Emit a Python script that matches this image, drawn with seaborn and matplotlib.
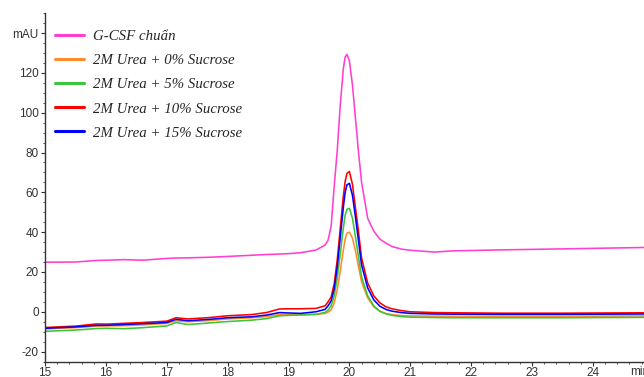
import numpy as np
import pandas as pd
import matplotlib
matplotlib.use("Agg")
import matplotlib.pyplot as plt
import matplotlib.transforms as mtransforms
from matplotlib.ticker import MultipleLocator
import seaborn as sns

# ----------------------------
# DATA
# ----------------------------
minutes = [15.0, 15.5, 15.85, 16.0, 16.3, 16.6, 17.0, 17.15, 17.35, 17.7,
           18.0, 18.4, 18.65, 18.85, 19.0, 19.2, 19.45, 19.6, 19.65, 19.7,
           19.75, 19.8, 19.85, 19.9, 19.93, 19.96, 20.0, 20.05, 20.1, 20.15,
           20.2, 20.3, 20.4, 20.5, 20.6, 20.7, 20.85, 21.0, 21.4, 21.7,
           22.5, 23.5, 24.85]

gcsf_std = [24.9, 25.0, 25.8, 25.9, 26.2, 25.9, 26.8, 27.0, 27.1, 27.4,
            27.8, 28.4, 28.8, 29.0, 29.2, 29.7, 31.0, 33.5, 36.0, 43.0,
            63.0, 81.0, 104.0, 122.0, 128.0, 129.3, 126.0, 114.0, 97.0, 80.0,
            65.0, 47.0, 40.5, 36.5, 34.5, 32.8, 31.5, 30.9, 30.0, 30.6,
            31.1, 31.6, 32.3]

sucrose_0 = [-8.6, -8.0, -7.2, -7.1, -7.0, -6.6, -5.8, -4.5, -5.0, -4.4,
             -3.6, -3.0, -2.4, -1.4, -1.4, -1.4, -1.3, -0.8, -0.2, 1.0,
             4.5, 11.0, 20.5, 31.0, 36.5, 39.5, 40.0, 37.0, 30.5, 22.5,
             15.0, 7.0, 2.5, 0.2, -0.9, -1.4, -1.9, -2.1, -2.2, -2.3,
             -2.3, -2.3, -2.1]

sucrose_5 = [-9.8, -9.2, -8.4, -8.3, -8.5, -8.0, -7.1, -5.4, -6.4, -5.6,
             -4.9, -4.2, -3.4, -2.0, -1.8, -1.6, -1.3, -0.3, 0.8, 3.0,
             8.0, 17.0, 29.0, 42.0, 48.5, 51.5, 52.0, 47.0, 37.5, 27.5,
             17.5, 8.0, 3.0, 0.3, -1.0, -1.8, -2.4, -2.7, -2.9, -3.0,
             -3.0, -3.0, -2.8]

sucrose_10 = [-7.9, -7.2, -6.1, -6.2, -5.8, -5.4, -4.7, -3.0, -3.6, -2.9,
              -2.0, -1.4, -0.3, 1.4, 1.5, 1.5, 1.7, 3.0, 5.0, 7.5,
              14.0, 26.0, 42.0, 58.0, 65.5, 69.5, 70.5, 64.0, 52.0, 40.0,
              27.0, 14.5, 8.0, 4.5, 2.5, 1.5, 0.6, 0.0, -0.4, -0.5,
              -0.7, -0.7, -0.5]

sucrose_15 = [-8.3, -7.6, -6.8, -6.8, -6.4, -6.0, -5.4, -3.8, -4.5, -3.8,
              -3.0, -2.5, -1.6, -0.4, -0.6, -0.8, 0.0, 1.2, 3.0, 5.5,
              11.5, 22.5, 37.5, 52.5, 60.0, 63.8, 64.5, 58.5, 47.5, 35.5,
              23.5, 12.0, 6.0, 2.8, 1.2, 0.3, -0.4, -0.8, -1.1, -1.2,
              -1.3, -1.3, -1.1]

labels = ["G-CSF chuẩn",
          "2M Urea + 0% Sucrose",
          "2M Urea + 5% Sucrose",
          "2M Urea + 10% Sucrose",
          "2M Urea + 15% Sucrose"]
colors = ["#ff3fd2", "#ff8c2a", "#3cc43c", "#ff0000", "#0000ff"]

y_ticks = [-20, 0, 20, 40, 60, 80, 100, 120, 140]
y_ticklabels = ["-20", "0", "20", "40", "60", "80", "100", "120", "mAU"]
x_ticks = [15, 16, 17, 18, 19, 20, 21, 22, 23, 24]

# ----------------------------
# LONG FORMAT
# ----------------------------
series = [gcsf_std, sucrose_0, sucrose_5, sucrose_10, sucrose_15]
frames = []
for lab, vals in zip(labels, series):
    frames.append(pd.DataFrame({"Time": minutes, "mAU": vals, "Sample": lab}))
df = pd.concat(frames, ignore_index=True)

# ----------------------------
# PLOT
# ----------------------------
sns.set_style("white")
plt.rcParams["font.family"] = ["Liberation Sans", "DejaVu Sans"]

fig = plt.figure(figsize=(6.44, 3.77), dpi=100)
ax = fig.add_axes([0.07, 0.041, 0.93, 0.924])

# draw samples first, standard on top
draw_order = labels[1:] + labels[:1]
for lab in draw_order:
    sub = df[df["Sample"] == lab]
    sns.lineplot(data=sub, x="Time", y="mAU", color=colors[labels.index(lab)],
                 lw=1.15, sort=False, estimator=None, ax=ax, label=lab)

ax.set_xlim(15, 24.84)
ax.set_ylim(-25, 150)
ax.set_xticks(x_ticks)
ax.set_yticks(y_ticks)
ax.set_yticklabels(y_ticklabels)
ax.xaxis.set_minor_locator(MultipleLocator(0.2))
ax.yaxis.set_minor_locator(MultipleLocator(5))
ax.set_xlabel("")
ax.set_ylabel("")

for side in ["top", "right"]:
    ax.spines[side].set_visible(False)
for side in ["left", "bottom"]:
    ax.spines[side].set_color("#333333")
    ax.spines[side].set_linewidth(1.0)

ax.tick_params(which="major", direction="out", length=2.6, width=0.8, pad=1,
               color="#333333", labelsize=8.5, labelcolor="#333333",
               left=True, bottom=True)
ax.tick_params(axis="y", which="major", pad=2)
ax.tick_params(which="minor", direction="out", length=1.6, width=0.6,
               color="#333333", left=True, bottom=True)

# unit label at the end of the x axis
trans = mtransforms.blended_transform_factory(ax.transData, ax.transAxes)
ax.text(24.62, -0.012, "min", transform=trans, ha="left", va="top",
        fontsize=8.5, color="#333333", clip_on=False)

# legend in the chart's own order
handles, labs = ax.get_legend_handles_labels()
order = [labs.index(l) for l in labels]
ax.legend([handles[i] for i in order], labels, loc="upper left",
          bbox_to_anchor=(0.0, 0.98), frameon=False, handlelength=2.0,
          handletextpad=0.6, labelspacing=0.72, borderaxespad=0.25,
          prop={"family": "Liberation Serif", "style": "italic", "size": 10.7})
for line in ax.get_legend().get_lines():
    line.set_linewidth(2.2)

fig.savefig("out.png", dpi=100)
